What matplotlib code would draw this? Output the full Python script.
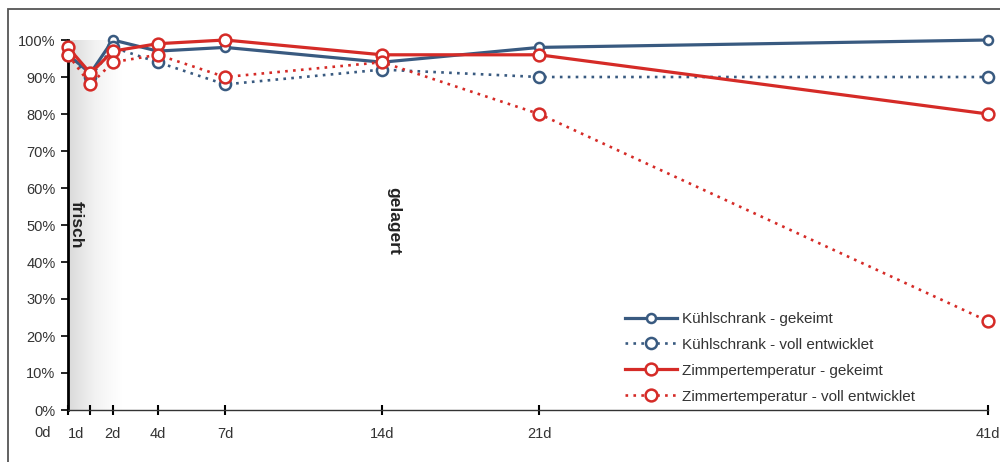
import numpy as np
import matplotlib
matplotlib.use("Agg")
import matplotlib.pyplot as plt
from matplotlib.patches import Rectangle
from matplotlib.ticker import PercentFormatter
from matplotlib.colors import LinearSegmentedColormap

plt.rcParams['font.family'] = ['Liberation Sans', 'DejaVu Sans']

# Tage und Keimraten (%)
days = [0, 1, 2, 4, 7, 14, 21, 41]
kuehl_gekeimt = [96, 91, 100, 97, 98, 94, 98, 100]
kuehl_voll = [96, 90, 98, 94, 88, 92, 90, 90]
zimmer_gekeimt = [98, 91, 97, 99, 100, 96, 96, 80]
zimmer_voll = [96, 88, 94, 96, 90, 94, 80, 24]

tick_days = [0, 1, 2, 4, 7, 14, 21, 41]
label_pos = [0.35, 2, 4, 7, 14, 21, 41]
label_txt = ["1d", "2d", "4d", "7d", "14d", "21d", "41d"]
yticks = [0, 10, 20, 30, 40, 50, 60, 70, 80, 90, 100]

blue = "#395a80"
red = "#d52b27"

fig = plt.figure(figsize=(10, 4.62), dpi=100)
ax = fig.add_axes([0.068, 52 / 462, 0.92, 370 / 462])

# grauer Verlauf fuer "frisch"
grad = np.linspace(0, 1, 100).reshape(1, -1)
cm = LinearSegmentedColormap.from_list("fade", ["#dadada", "#f2f2f2", "#ffffff"])
ax.imshow(grad, extent=[0, 2.4, 0, 100], aspect="auto", cmap=cm,
          zorder=0, interpolation="bilinear")

ax.plot(days, kuehl_gekeimt, color=blue, lw=2.3, marker="o", ms=6.5,
        mfc="white", mew=1.8, label="Kühlschrank - gekeimt", clip_on=False, zorder=3)
ax.plot(days, kuehl_voll, color=blue, lw=1.9, ls=(0, (1, 2)), marker="o", ms=8,
        mfc="white", mew=1.8, label="Kühlschrank - voll entwicklet", clip_on=False, zorder=3)
ax.plot(days, zimmer_gekeimt, color=red, lw=2.3, marker="o", ms=8.5,
        mfc="white", mew=1.8, label="Zimmpertemperatur - gekeimt", clip_on=False, zorder=4)
ax.plot(days, zimmer_voll, color=red, lw=1.9, ls=(0, (1, 2)), marker="o", ms=8.5,
        mfc="white", mew=1.8, label="Zimmertemperatur - voll entwicklet", clip_on=False, zorder=4)

ax.set_xlim(0, 41)
ax.set_ylim(0, 100)

for s in ["top", "right"]:
    ax.spines[s].set_visible(False)
ax.spines["left"].set_linewidth(2)
ax.spines["left"].set_color("black")
ax.spines["bottom"].set_linewidth(1)
ax.spines["bottom"].set_color("#333333")

ax.set_yticks(yticks)
ax.yaxis.set_major_formatter(PercentFormatter(decimals=0))
ax.tick_params(axis="y", direction="out", length=5, width=1.2, color="black",
               labelsize=10.5, labelcolor="#333333", pad=4)

ax.xaxis.remove_overlapping_locs = False
ax.set_xticks(label_pos, label_txt)
ax.tick_params(axis="x", which="major", length=0, labelsize=10.5,
               labelcolor="#333333", pad=12)
ax.set_xticks(tick_days, minor=True)
ax.tick_params(axis="x", which="minor", direction="inout", length=7, width=1.5,
               color="black")
ax.text(-1.15, -0.044, "0d", transform=ax.get_xaxis_transform(), ha="center",
        va="top", fontsize=10.5, color="#333333")

ax.text(0.05, 50, "frisch", rotation=-90, ha="left", va="center",
        fontsize=12.5, fontweight="bold", color="#222222", zorder=2)
ax.text(14.2, 51, "gelagert", rotation=-90, ha="left", va="center",
        fontsize=12.5, fontweight="bold", color="#222222", zorder=2)

ax.legend(loc="lower left", bbox_to_anchor=(0.591, -0.02), frameon=False,
          fontsize=11, handlelength=3.4, handletextpad=0.3, labelspacing=0.78,
          labelcolor="#333333")

# Rahmen
fig.patches.append(Rectangle((8 / 1000, -0.1), 1.1, (462 - 9) / 462 + 0.1,
                             transform=fig.transFigure, fill=False,
                             edgecolor="#555555", lw=1.3))

fig.savefig("out.png", dpi=100)
